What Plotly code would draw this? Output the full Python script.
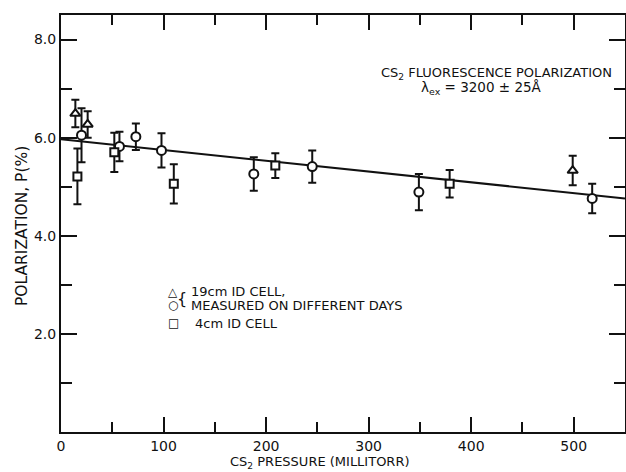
import plotly.graph_objects as go

# 19 cm ID cell, day A (triangles)
TRI_X = [14, 26, 499]
TRI_Y = [6.49, 6.27, 5.33]
TRI_E = [0.28, 0.27, 0.30]

# 19 cm ID cell, day B (circles)
CIR_X = [20, 57, 73, 98, 188, 245, 349, 518]
CIR_Y = [6.05, 5.82, 6.02, 5.74, 5.26, 5.41, 4.89, 4.76]
CIR_E = [0.55, 0.30, 0.27, 0.35, 0.34, 0.33, 0.37, 0.30]

# 4 cm ID cell (squares)
SQ_X = [16, 52, 110, 209, 379]
SQ_Y = [5.21, 5.70, 5.06, 5.43, 5.06]
SQ_E = [0.57, 0.40, 0.40, 0.25, 0.28]

# fitted line
LINE_X = [0, 550]
LINE_Y = [5.97, 4.76]

X_TICKS = [0, 100, 200, 300, 400, 500]
X_TICK_TEXT = ["0", "100", "200", "300", "400", "500"]
Y_TICKS = [2, 4, 6, 8]
Y_TICK_TEXT = ["2.0", "4.0", "6.0", "8.0"]

FONT = "DejaVu Sans"
BLACK = "#111111"

fig = go.Figure()
fig.add_trace(go.Scatter(x=LINE_X, y=LINE_Y, mode="lines",
                         line=dict(color=BLACK, width=2), showlegend=False))

def add_series(xs, ys, es, symbol, size):
    fig.add_trace(go.Scatter(
        x=xs, y=ys, mode="markers", showlegend=False,
        marker=dict(symbol=symbol, size=size, color="white",
                    line=dict(color=BLACK, width=2)),
        error_y=dict(type="data", array=es, visible=True,
                     color=BLACK, thickness=2, width=4)))

add_series(TRI_X, TRI_Y, TRI_E, "triangle-up", 9)
add_series(CIR_X, CIR_Y, CIR_E, "circle", 9)
add_series(SQ_X, SQ_Y, SQ_E, "square", 8)

axis_common = dict(showline=True, linecolor=BLACK, linewidth=2, mirror="allticks",
                   ticks="inside", tickcolor=BLACK, tickwidth=2, showgrid=False,
                   zeroline=False, tickfont=dict(family=FONT, size=14, color=BLACK))

fig.update_xaxes(range=[0, 550], tickvals=X_TICKS, ticktext=X_TICK_TEXT, ticklen=15,
                 minor=dict(dtick=50, tick0=0, ticks="inside", ticklen=10,
                            tickcolor=BLACK, tickwidth=2, showgrid=False),
                 **axis_common)
fig.update_yaxes(range=[0, 8.5], tickvals=Y_TICKS, ticktext=Y_TICK_TEXT, ticklen=16,
                 minor=dict(dtick=1, tick0=0, ticks="inside", ticklen=11,
                            tickcolor=BLACK, tickwidth=2, showgrid=False),
                 **axis_common)

def ann(text, x, y, size=12, xanchor="center", angle=0, yanchor="middle"):
    fig.add_annotation(text=text, x=x, y=y, xref="paper", yref="paper",
                       showarrow=False, xanchor=xanchor, yanchor=yanchor,
                       textangle=angle,
                       font=dict(family=FONT, size=size, color=BLACK))

ann("POLARIZATION, P(%)", -0.069, 0.494, size=15.5, angle=-90)
ann("CS<sub>2</sub> PRESSURE (MILLITORR)", 0.459, -0.049, size=13, yanchor="top")
ann("CS<sub>2</sub> FLUORESCENCE POLARIZATION", 0.773, 0.86, size=13)
ann("λ<sub>ex</sub> = 3200 ± 25Å", 0.745, 0.825, size=13.5)

ann("△", 0.199, 0.336, size=12)
ann("○", 0.199, 0.305, size=12)
ann("□", 0.199, 0.261, size=12)
ann("{", 0.2145, 0.32, size=16)
ann("19cm ID CELL,", 0.227, 0.336, size=13, xanchor="left")
ann("MEASURED ON DIFFERENT DAYS", 0.227, 0.303, size=13, xanchor="left")
ann("4cm ID CELL", 0.234, 0.261, size=13, xanchor="left")

fig.update_layout(width=626, height=472, plot_bgcolor="white", paper_bgcolor="white",
                  margin=dict(l=61, r=1, t=15, b=40, autoexpand=False), showlegend=False)

fig.write_html("out.html", config={"displayModeBar": False},
               post_script="document.body.style.margin='0';document.body.style.overflow='hidden';")
